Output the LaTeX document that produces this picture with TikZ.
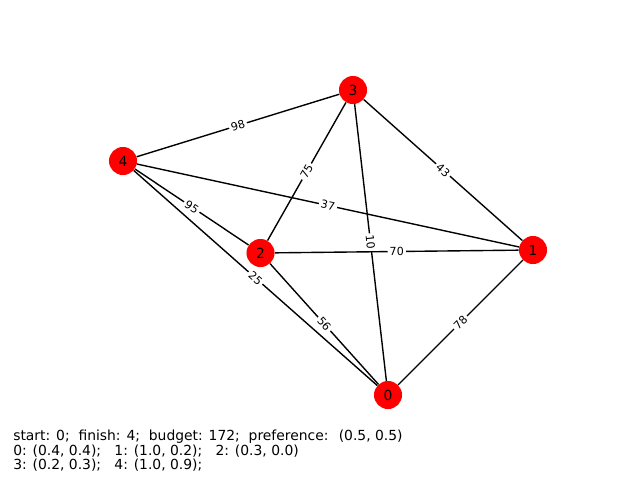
\documentclass[tikz,border=0pt]{standalone}
\usepackage{fontspec}
\setmainfont{DejaVu Sans}
\begin{document}
\begin{tikzpicture}[x=0.72pt,y=-0.72pt,
  vertex/.style={circle,fill=red,minimum size=20.2pt,inner sep=0pt,font=\fontsize{10}{12}\selectfont},
  weight/.style={fill=white,inner sep=1.5pt,sloped,font=\fontsize{8}{9}\selectfont},
  link/.style={line width=1pt}]
\useasboundingbox (0,0) rectangle (640,480);
\node[vertex] (n0) at (388,395) {0};
\node[vertex] (n1) at (533,250) {1};
\node[vertex] (n2) at (260.5,253) {2};
\node[vertex] (n3) at (353,90) {3};
\node[vertex] (n4) at (123,161) {4};
\foreach \a/\b/\w in {3/4/98, 3/2/75, 3/0/10, 3/1/43, 4/1/37, 4/2/95, 4/0/25, 2/1/70, 2/0/56, 0/1/78}
  \draw[link] (n\a) -- node[weight] {\w} (n\b);
\node[anchor=north west,inner sep=0pt,align=left,font=\fontsize{10}{10.2}\selectfont] (info) at (13,430)
  {start: 0;~ finish: 4;~ budget: 172;~ preference:~ (0.5, 0.5)\\
   0: (0.4, 0.4);~~ 1: (1.0, 0.2);~~ 2: (0.3, 0.0)\\
   3: (0.2, 0.3);~~ 4: (1.0, 0.9);};
\end{tikzpicture}
\end{document}
